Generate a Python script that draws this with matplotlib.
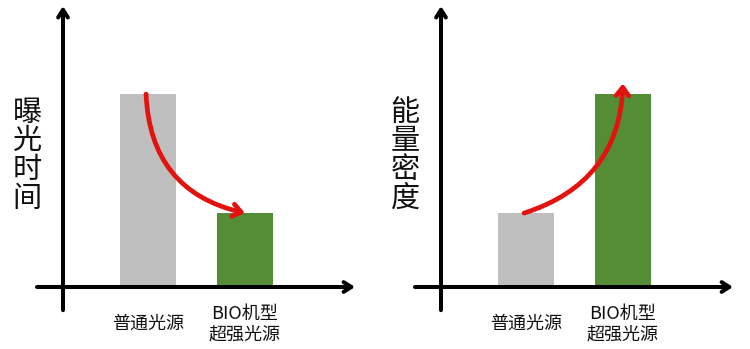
import matplotlib.pyplot as plt
from matplotlib.patches import FancyArrowPatch

plt.rcParams['font.family'] = ['Noto Sans CJK SC', 'DejaVu Sans']

# 数据
categories = ["普通光源", "BIO机型\n超强光源"]
exposure_time = [10.0, 3.83]
energy_density = [3.83, 10.0]
ylabels = ["曝光时间", "能量密度"]
bar_colors = ["#bfbfbf", "#548d35"]

W, H = 750, 349
fig = plt.figure(figsize=(W / 100, H / 100), dpi=100)

YMAX = 14.46
XLIM = (-1.144, 2.134)
YAXIS_X = -0.876


def panel(x0, values, ylabel, rad):
    # x0 = pixel left of x-axis line
    ax = fig.add_axes([x0 / W, (H - 287) / H, 318 / W, 279 / H])
    ax.set_xlim(*XLIM)
    ax.set_ylim(0, YMAX)
    ax.axis("off")

    xs = range(len(values))
    ax.bar(xs, values, width=0.577, color=bar_colors, zorder=2)

    # axes with arrowheads
    ax.annotate("", xy=(XLIM[1], 0), xytext=(XLIM[0], 0),
                arrowprops=dict(arrowstyle="->,head_length=0.55,head_width=0.35",
                                lw=2.9, color="black", shrinkA=0, shrinkB=0),
                annotation_clip=False)
    ax.annotate("", xy=(YAXIS_X, YMAX + 0.1), xytext=(YAXIS_X, -1.2),
                arrowprops=dict(arrowstyle="->,head_length=0.55,head_width=0.35",
                                lw=2.9, color="black", shrinkA=0, shrinkB=0),
                annotation_clip=False)

    for x, lab in zip(xs, categories):
        ax.text(x, -0.133, lab, transform=ax.get_xaxis_transform(),
                ha="center", va="center", fontsize=13, color="#111111",
                linespacing=1.15)

    ax.text(-0.031, 0.47, "\n".join(ylabel), transform=ax.transAxes,
            ha="center", va="center", fontsize=21, color="#111111",
            linespacing=0.95)

    # red curved arrow from first bar top to second bar top
    start = (0 - 0.02, values[0])
    end = (1.0, values[1] + (0.55 if values[1] > values[0] else 0))
    arr = FancyArrowPatch(start, end, connectionstyle=f"arc3,rad={rad}",
                          arrowstyle="->,head_length=6,head_width=4.5",
                          lw=3.4, color="#e3120f", zorder=3,
                          shrinkA=0, shrinkB=0)
    ax.add_patch(arr)
    return ax


panel(37, exposure_time, ylabels[0], 0.38)
panel(415, energy_density, ylabels[1], 0.35)

fig.savefig("out.png", dpi=100)
